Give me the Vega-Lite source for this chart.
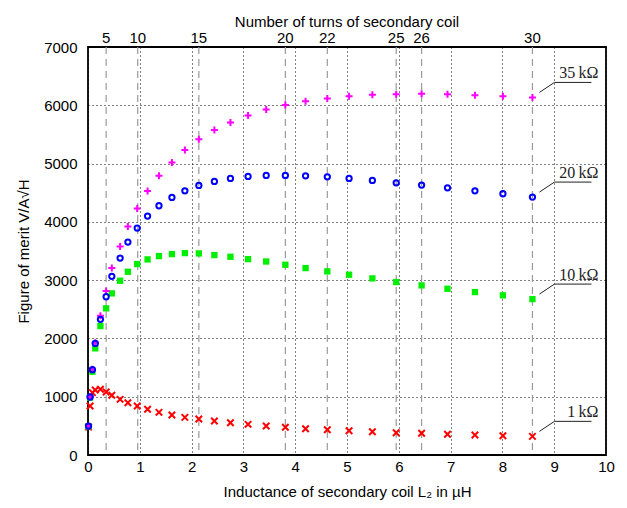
{
  "$schema": "https://vega.github.io/schema/vega-lite/v6.json",
  "width": 518,
  "height": 408,
  "autosize": "none",
  "padding": {"left": 88, "top": 47, "right": 21, "bottom": 53},
  "title": {"text": "Number of turns of secondary coil", "anchor": "middle", "frame": "group", "fontSize": 15, "fontWeight": "normal", "font": "Liberation Sans", "color": "black", "offset": 1},
  "config": {
    "view": {"stroke": "black", "strokeWidth": 1.8},
    "font": "Liberation Sans",
    "axisX": {"format": "d", "grid": true, "gridColor": "black", "gridDash": [1, 3], "gridOpacity": 1, "ticks": false, "domain": false, "labelFontSize": 15, "labelPadding": 4, "labelColor": "black", "labelFlush": false, "titleFontSize": 15, "titleFontWeight": "normal", "titleColor": "black", "titlePadding": 10},
    "axisY": {"format": "d", "grid": true, "gridColor": "black", "gridDash": [1, 3], "gridOpacity": 1, "ticks": false, "domain": false, "labelFontSize": 15, "labelPadding": 11, "labelColor": "black", "titleFontSize": 15, "titleFontWeight": "normal", "titleColor": "black", "titlePadding": 12}
  },
  "datasets": {
    "merit": [
      {"N": 1, "L": 0.01, "1\u2009kΩ": 480, "10\u2009kΩ": 490, "20\u2009kΩ": 497, "35\u2009kΩ": 497},
      {"N": 2, "L": 0.04, "1\u2009kΩ": 840, "10\u2009kΩ": 985, "20\u2009kΩ": 995, "35\u2009kΩ": 1000},
      {"N": 3, "L": 0.085, "1\u2009kΩ": 1070, "10\u2009kΩ": 1429, "20\u2009kΩ": 1463, "35\u2009kΩ": 1470},
      {"N": 4, "L": 0.14, "1\u2009kΩ": 1115, "10\u2009kΩ": 1830, "20\u2009kΩ": 1915, "35\u2009kΩ": 1925},
      {"N": 5, "L": 0.24, "1\u2009kΩ": 1127, "10\u2009kΩ": 2212, "20\u2009kΩ": 2327, "35\u2009kΩ": 2390},
      {"N": 6, "L": 0.35, "1\u2009kΩ": 1080, "10\u2009kΩ": 2516, "20\u2009kΩ": 2715, "35\u2009kΩ": 2812},
      {"N": 7, "L": 0.46, "1\u2009kΩ": 1024, "10\u2009kΩ": 2773, "20\u2009kΩ": 3065, "35\u2009kΩ": 3207},
      {"N": 8, "L": 0.62, "1\u2009kΩ": 955, "10\u2009kΩ": 2990, "20\u2009kΩ": 3378, "35\u2009kΩ": 3579},
      {"N": 9, "L": 0.77, "1\u2009kΩ": 897, "10\u2009kΩ": 3144, "20\u2009kΩ": 3653, "35\u2009kΩ": 3922},
      {"N": 10, "L": 0.95, "1\u2009kΩ": 840, "10\u2009kΩ": 3276, "20\u2009kΩ": 3893, "35\u2009kΩ": 4231},
      {"N": 11, "L": 1.15, "1\u2009kΩ": 784, "10\u2009kΩ": 3356, "20\u2009kΩ": 4099, "35\u2009kΩ": 4528},
      {"N": 12, "L": 1.37, "1\u2009kΩ": 732, "10\u2009kΩ": 3413, "20\u2009kΩ": 4276, "35\u2009kΩ": 4790},
      {"N": 13, "L": 1.62, "1\u2009kΩ": 686, "10\u2009kΩ": 3447, "20\u2009kΩ": 4419, "35\u2009kΩ": 5020},
      {"N": 14, "L": 1.87, "1\u2009kΩ": 646, "10\u2009kΩ": 3464, "20\u2009kΩ": 4533, "35\u2009kΩ": 5231},
      {"N": 15, "L": 2.14, "1\u2009kΩ": 617, "10\u2009kΩ": 3459, "20\u2009kΩ": 4625, "35\u2009kΩ": 5419},
      {"N": 16, "L": 2.44, "1\u2009kΩ": 583, "10\u2009kΩ": 3430, "20\u2009kΩ": 4694, "35\u2009kΩ": 5574},
      {"N": 17, "L": 2.75, "1\u2009kΩ": 554, "10\u2009kΩ": 3401, "20\u2009kΩ": 4745, "35\u2009kΩ": 5706},
      {"N": 18, "L": 3.09, "1\u2009kΩ": 526, "10\u2009kΩ": 3361, "20\u2009kΩ": 4780, "35\u2009kΩ": 5826},
      {"N": 19, "L": 3.44, "1\u2009kΩ": 497, "10\u2009kΩ": 3320, "20\u2009kΩ": 4797, "35\u2009kΩ": 5929},
      {"N": 20, "L": 3.81, "1\u2009kΩ": 475, "10\u2009kΩ": 3264, "20\u2009kΩ": 4797, "35\u2009kΩ": 6003},
      {"N": 21, "L": 4.2, "1\u2009kΩ": 451, "10\u2009kΩ": 3207, "20\u2009kΩ": 4790, "35\u2009kΩ": 6071},
      {"N": 22, "L": 4.62, "1\u2009kΩ": 434, "10\u2009kΩ": 3150, "20\u2009kΩ": 4773, "35\u2009kΩ": 6117},
      {"N": 23, "L": 5.04, "1\u2009kΩ": 417, "10\u2009kΩ": 3093, "20\u2009kΩ": 4745, "35\u2009kΩ": 6157},
      {"N": 24, "L": 5.49, "1\u2009kΩ": 400, "10\u2009kΩ": 3030, "20\u2009kΩ": 4711, "35\u2009kΩ": 6179},
      {"N": 25, "L": 5.95, "1\u2009kΩ": 382, "10\u2009kΩ": 2967, "20\u2009kΩ": 4670, "35\u2009kΩ": 6191},
      {"N": 26, "L": 6.44, "1\u2009kΩ": 372, "10\u2009kΩ": 2910, "20\u2009kΩ": 4631, "35\u2009kΩ": 6196},
      {"N": 27, "L": 6.94, "1\u2009kΩ": 355, "10\u2009kΩ": 2852, "20\u2009kΩ": 4584, "35\u2009kΩ": 6191},
      {"N": 28, "L": 7.47, "1\u2009kΩ": 343, "10\u2009kΩ": 2795, "20\u2009kΩ": 4533, "35\u2009kΩ": 6174},
      {"N": 29, "L": 8.01, "1\u2009kΩ": 331, "10\u2009kΩ": 2739, "20\u2009kΩ": 4482, "35\u2009kΩ": 6157},
      {"N": 30, "L": 8.58, "1\u2009kΩ": 320, "10\u2009kΩ": 2675, "20\u2009kΩ": 4425, "35\u2009kΩ": 6135}
    ],
    "turns": [
      {"N": 5, "L": 0.35}, {"N": 10, "L": 0.96}, {"N": 15, "L": 2.14}, {"N": 20, "L": 3.81},
      {"N": 22, "L": 4.62}, {"N": 25, "L": 5.95}, {"N": 26, "L": 6.44}, {"N": 30, "L": 8.58}
    ]
  },
  "layer": [
    {
      "data": {"name": "turns"},
      "mark": {"type": "rule", "color": "#9a9a9a", "strokeDash": [7, 5], "strokeWidth": 1.2},
      "encoding": {
        "x": {"field": "L", "type": "quantitative", "scale": {"domain": [0, 10], "nice": false}, "axis": {"title": "Inductance of secondary coil L₂ in µH", "values": [0, 1, 2, 3, 4, 5, 6, 7, 8, 9, 10]}}
      }
    },
    {
      "data": {"name": "turns"},
      "mark": {"type": "text", "fontSize": 15, "baseline": "alphabetic", "dy": -4.5, "font": "Liberation Sans", "color": "black"},
      "encoding": {
        "x": {"field": "L", "type": "quantitative", "axis": {"title": "Inductance of secondary coil L₂ in µH", "values": [0, 1, 2, 3, 4, 5, 6, 7, 8, 9, 10]}},
        "y": {"datum": 7000, "type": "quantitative", "scale": {"domain": [0, 7000], "nice": false}, "axis": {"title": "Figure of merit V/A√H", "values": [0, 1000, 2000, 3000, 4000, 5000, 6000, 7000]}},
        "text": {"field": "N", "type": "nominal"}
      }
    },
    {
      "data": {"name": "merit"},
      "transform": [{"fold": ["1\u2009kΩ", "10\u2009kΩ", "20\u2009kΩ", "35\u2009kΩ"], "as": ["R", "V"]}, {"filter": {"field": "R", "equal": "1\u2009kΩ"}}],
      "mark": {"type": "point", "shape": "M-1,-1L1,1M-1,1L1,-1", "size": 42, "strokeWidth": 2, "filled": false, "color": "#ff0000", "opacity": 1},
      "encoding": {
        "x": {"field": "L", "type": "quantitative", "axis": {"title": "Inductance of secondary coil L₂ in µH", "values": [0, 1, 2, 3, 4, 5, 6, 7, 8, 9, 10]}},
        "y": {"field": "V", "type": "quantitative", "axis": {"title": "Figure of merit V/A√H", "values": [0, 1000, 2000, 3000, 4000, 5000, 6000, 7000]}}
      }
    },
    {
      "data": {"name": "merit"},
      "transform": [{"fold": ["1\u2009kΩ", "10\u2009kΩ", "20\u2009kΩ", "35\u2009kΩ"], "as": ["R", "V"]}, {"filter": {"field": "R", "equal": "10\u2009kΩ"}}],
      "mark": {"type": "point", "shape": "square", "size": 40, "filled": true, "color": "#00ee00", "opacity": 1},
      "encoding": {
        "x": {"field": "L", "type": "quantitative", "axis": {"title": "Inductance of secondary coil L₂ in µH", "values": [0, 1, 2, 3, 4, 5, 6, 7, 8, 9, 10]}},
        "y": {"field": "V", "type": "quantitative", "axis": {"title": "Figure of merit V/A√H", "values": [0, 1000, 2000, 3000, 4000, 5000, 6000, 7000]}}
      }
    },
    {
      "data": {"name": "merit"},
      "transform": [{"fold": ["1\u2009kΩ", "10\u2009kΩ", "20\u2009kΩ", "35\u2009kΩ"], "as": ["R", "V"]}, {"filter": {"field": "R", "equal": "35\u2009kΩ"}}],
      "mark": {"type": "point", "shape": "M-1,0L1,0M0,-1L0,1", "size": 49, "strokeWidth": 2, "filled": false, "color": "#ff00ff", "opacity": 1},
      "encoding": {
        "x": {"field": "L", "type": "quantitative", "axis": {"title": "Inductance of secondary coil L₂ in µH", "values": [0, 1, 2, 3, 4, 5, 6, 7, 8, 9, 10]}},
        "y": {"field": "V", "type": "quantitative", "axis": {"title": "Figure of merit V/A√H", "values": [0, 1000, 2000, 3000, 4000, 5000, 6000, 7000]}}
      }
    },
    {
      "data": {"name": "merit"},
      "transform": [{"fold": ["1\u2009kΩ", "10\u2009kΩ", "20\u2009kΩ", "35\u2009kΩ"], "as": ["R", "V"]}, {"filter": {"field": "R", "equal": "20\u2009kΩ"}}],
      "mark": {"type": "point", "shape": "circle", "size": 28, "strokeWidth": 2, "filled": false, "color": "#0000ff", "opacity": 1},
      "encoding": {
        "x": {"field": "L", "type": "quantitative", "axis": {"title": "Inductance of secondary coil L₂ in µH", "values": [0, 1, 2, 3, 4, 5, 6, 7, 8, 9, 10]}},
        "y": {"field": "V", "type": "quantitative", "axis": {"title": "Figure of merit V/A√H", "values": [0, 1000, 2000, 3000, 4000, 5000, 6000, 7000]}}
      }
    },
    {
      "data": {"name": "merit"},
      "transform": [{"fold": ["1\u2009kΩ", "10\u2009kΩ", "20\u2009kΩ", "35\u2009kΩ"], "as": ["R", "V"]}, {"filter": "datum.N == 30"}],
      "mark": {"type": "rule", "color": "#222222", "strokeWidth": 1, "xOffset": 7, "yOffset": -5, "x2Offset": 22, "y2Offset": -15},
      "encoding": {
        "x": {"field": "L", "type": "quantitative", "axis": {"title": "Inductance of secondary coil L₂ in µH", "values": [0, 1, 2, 3, 4, 5, 6, 7, 8, 9, 10]}},
        "y": {"field": "V", "type": "quantitative", "axis": {"title": "Figure of merit V/A√H", "values": [0, 1000, 2000, 3000, 4000, 5000, 6000, 7000]}},
        "x2": {"field": "L"},
        "y2": {"field": "V"}
      }
    },
    {
      "data": {"name": "merit"},
      "transform": [{"fold": ["1\u2009kΩ", "10\u2009kΩ", "20\u2009kΩ", "35\u2009kΩ"], "as": ["R", "V"]}, {"filter": "datum.N == 30"}],
      "mark": {"type": "rule", "color": "#222222", "strokeWidth": 1, "xOffset": 22, "yOffset": -15, "x2Offset": 59, "y2Offset": -15},
      "encoding": {
        "x": {"field": "L", "type": "quantitative", "axis": {"title": "Inductance of secondary coil L₂ in µH", "values": [0, 1, 2, 3, 4, 5, 6, 7, 8, 9, 10]}},
        "y": {"field": "V", "type": "quantitative", "axis": {"title": "Figure of merit V/A√H", "values": [0, 1000, 2000, 3000, 4000, 5000, 6000, 7000]}},
        "x2": {"field": "L"},
        "y2": {"field": "V"}
      }
    },
    {
      "data": {"name": "merit"},
      "transform": [{"fold": ["1\u2009kΩ", "10\u2009kΩ", "20\u2009kΩ", "35\u2009kΩ"], "as": ["R", "V"]}, {"filter": "datum.N == 30"}],
      "mark": {"type": "text", "font": "Liberation Serif", "fontSize": 16, "color": "#222222", "align": "right", "baseline": "alphabetic", "dx": 66, "dy": -19},
      "encoding": {
        "x": {"field": "L", "type": "quantitative", "axis": {"title": "Inductance of secondary coil L₂ in µH", "values": [0, 1, 2, 3, 4, 5, 6, 7, 8, 9, 10]}},
        "y": {"field": "V", "type": "quantitative", "axis": {"title": "Figure of merit V/A√H", "values": [0, 1000, 2000, 3000, 4000, 5000, 6000, 7000]}},
        "text": {"field": "R", "type": "nominal"}
      }
    }
  ]
}
